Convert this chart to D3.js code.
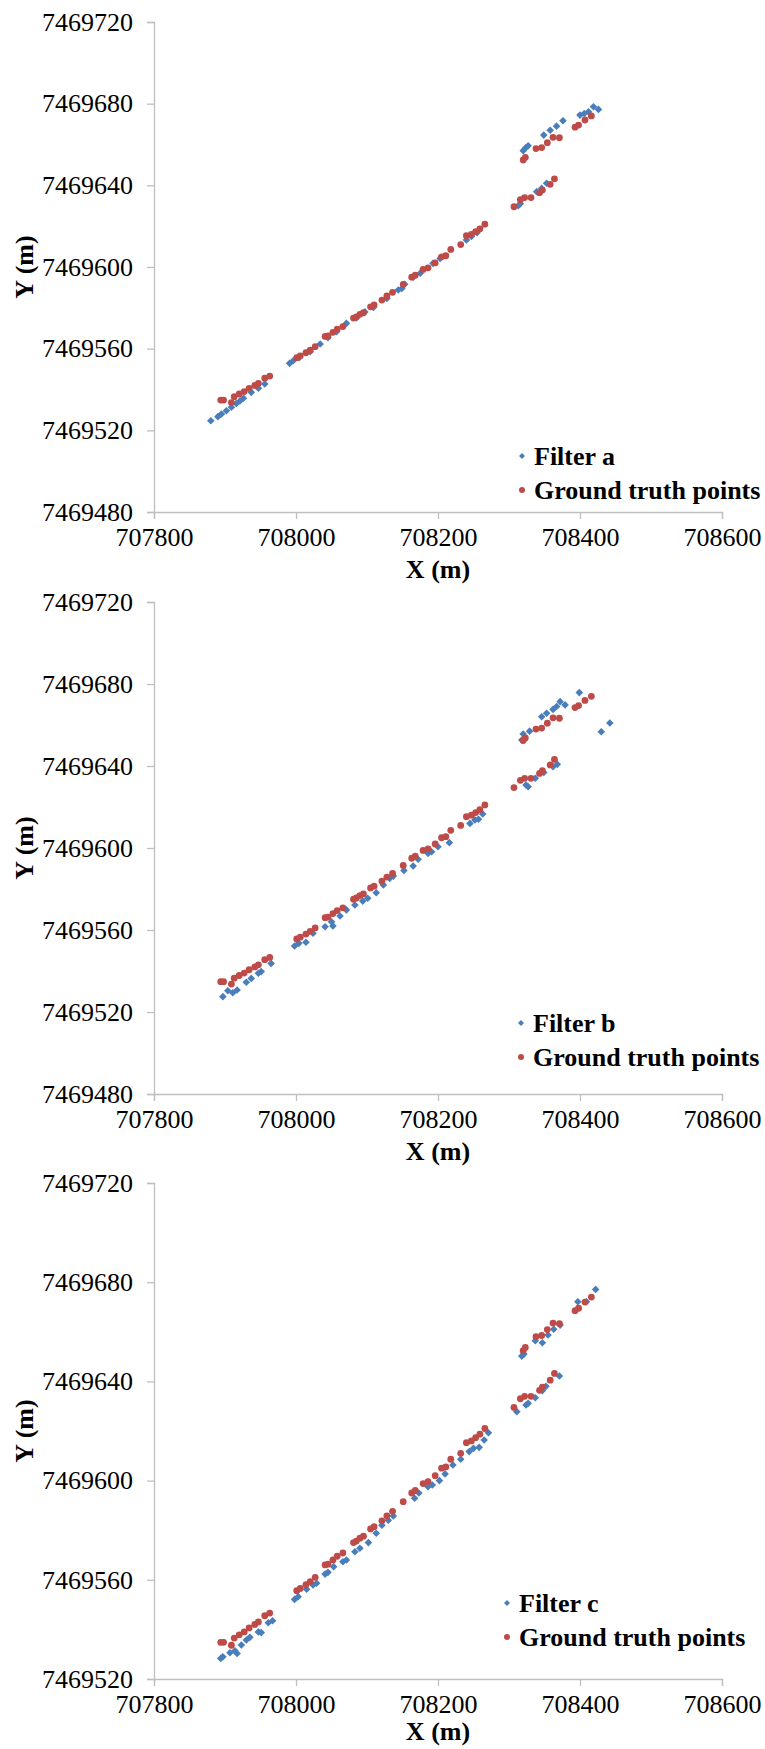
<!DOCTYPE html>
<html>
<head>
<meta charset="utf-8">
<script src="https://cdn.jsdelivr.net/npm/d3@7"></script>
<style>
  body { margin: 0; background: #fff; }
  text { font-family: "Liberation Serif", "Times New Roman", serif; fill: #000; }
</style>
</head>
<body>
<div id="container"></div>
<script>
// ground truth points (shared by all three panels)
var groundTruth = [
  [707894, 7469534.8], [707898, 7469534.8], [707909, 7469533.6], [707913, 7469536.5],
  [707920, 7469537.8], [707927, 7469539], [707934, 7469540.6], [707942, 7469542],
  [707947, 7469543], [707956, 7469545.5], [707963, 7469546.6],
  [708001, 7469555.6], [708006, 7469556.5], [708014, 7469558], [708020, 7469559.3],
  [708027, 7469561], [708041, 7469566], [708045, 7469566.3], [708052, 7469568],
  [708058, 7469569.5], [708066, 7469570.8], [708081, 7469575], [708085, 7469575.6],
  [708090, 7469576.8], [708095, 7469577.6], [708105, 7469580.5], [708110, 7469581.4],
  [708121, 7469583.8], [708128, 7469585.8], [708136, 7469587.6], [708151, 7469591.5],
  [708163, 7469595], [708168, 7469596], [708179, 7469598.8], [708186, 7469599.6],
  [708196, 7469602], [708205, 7469605], [708211, 7469605.5], [708218, 7469608.6],
  [708232, 7469611], [708240, 7469615.3], [708247, 7469616], [708253, 7469617.3],
  [708259, 7469618.7], [708266, 7469621],
  [708307, 7469629.5], [708316, 7469633], [708322, 7469634], [708331, 7469634],
  [708343, 7469636.4], [708347, 7469637.7], [708358, 7469640.5], [708364, 7469643.2],
  [708320, 7469652.4], [708323, 7469653.7], [708338, 7469658], [708346, 7469658.5],
  [708354, 7469660.9], [708362, 7469663.5], [708371, 7469663.3], [708393, 7469668.5],
  [708398, 7469669.5], [708407, 7469672], [708416, 7469674]
];

var filterA = [
  [707880, 7469524.7], [707890, 7469526.7], [707895, 7469528], [707902, 7469529.6],
  [707909, 7469531.3], [707916, 7469533.2], [707921, 7469534.4], [707926, 7469535.7],
  [707937, 7469538.6], [707947, 7469540.6], [707956, 7469542.7],
  [707991, 7469552.8], [707996, 7469554.1], [708005, 7469555.7], [708020, 7469558.5],
  [708034, 7469562.3], [708045, 7469565.4], [708057, 7469568.3], [708071, 7469572.4],
  [708085, 7469575], [708097, 7469578], [708109, 7469580.2], [708128, 7469584.6],
  [708144, 7469588.7], [708149, 7469589.5], [708153, 7469591.5], [708165, 7469595],
  [708175, 7469597], [708193, 7469601.8], [708203, 7469604.2],
  [708240, 7469613.2], [708247, 7469615], [708255, 7469616.8],
  [708313, 7469630], [708316, 7469631], [708339, 7469636.9], [708346, 7469638.5],
  [708353, 7469641],
  [708320, 7469657], [708324, 7469658.5], [708327, 7469659.4], [708349, 7469664.6],
  [708358, 7469667], [708367, 7469669], [708376, 7469671.6], [708400, 7469674.4],
  [708406, 7469675.2], [708412, 7469676], [708419, 7469678.5], [708426, 7469677.2]
];

var filterB = [
  [707897, 7469527.5], [707904, 7469530.4], [707911, 7469529.4], [707917, 7469530.7],
  [707930, 7469534.5], [707937, 7469536.4], [707947, 7469538.9], [707951, 7469539.7],
  [707965, 7469543.7],
  [707998, 7469552.2], [708004, 7469553.5], [708014, 7469554], [708024, 7469558.4],
  [708041, 7469561.6], [708052, 7469562], [708050, 7469564], [708062, 7469566.8],
  [708071, 7469569.8], [708083, 7469572.2], [708094, 7469574.1], [708101, 7469575.5],
  [708113, 7469578.2], [708123, 7469582], [708132, 7469585.2], [708137, 7469586.3],
  [708152, 7469589], [708165, 7469591.2], [708172, 7469594.5], [708186, 7469597.4],
  [708191, 7469598.2], [708200, 7469600.6], [708216, 7469602.6],
  [708245, 7469612], [708252, 7469613.7], [708257, 7469614], [708263, 7469616.6],
  [708324, 7469630.7], [708327, 7469629.9], [708337, 7469634], [708349, 7469636.8],
  [708362, 7469639.7], [708368, 7469640.8],
  [708318, 7469652.7], [708320, 7469655.6], [708329, 7469657], [708346, 7469664],
  [708353, 7469665.7], [708362, 7469667.6], [708367, 7469669], [708372, 7469671.4],
  [708379, 7469669.8], [708399, 7469675.8], [708430, 7469656.7], [708442, 7469661]
];

var filterC = [
  [707894, 7469528.3], [707897, 7469529], [707907, 7469530.6], [707914, 7469531.4],
  [707917, 7469530.3], [707923, 7469533.7], [707930, 7469535.7], [707935, 7469536.8],
  [707947, 7469539], [707951, 7469538.7], [707961, 7469542.7], [707967, 7469543.5],
  [707998, 7469552.1], [708003, 7469553.2], [708015, 7469556.2], [708024, 7469557.9],
  [708029, 7469558.6], [708041, 7469562.3], [708045, 7469563], [708053, 7469565.3],
  [708066, 7469567.3], [708071, 7469568], [708083, 7469571.3], [708090, 7469572.7],
  [708102, 7469575], [708113, 7469578.8], [708121, 7469582], [708130, 7469584],
  [708137, 7469585.7], [708167, 7469592.9], [708173, 7469595], [708186, 7469597.5],
  [708192, 7469598.2], [708202, 7469600], [708210, 7469602.7], [708221, 7469606.3],
  [708232, 7469608.6], [708244, 7469611.7], [708250, 7469613], [708258, 7469613.4],
  [708265, 7469616.4], [708271, 7469619.3],
  [708311, 7469627.8], [708324, 7469630.5], [708327, 7469631.2], [708337, 7469633.4],
  [708347, 7469636.3], [708352, 7469638], [708371, 7469642.2],
  [708318, 7469650.2], [708321, 7469651], [708337, 7469656.4], [708347, 7469655.6],
  [708355, 7469658.7], [708363, 7469661], [708372, 7469662.7], [708397, 7469672.1],
  [708409, 7469672.1], [708422, 7469677.1]
];

var xTicks = [707800, 708000, 708200, 708400, 708600];
var yTicksAB = [7469480, 7469520, 7469560, 7469600, 7469640, 7469680, 7469720];
var yTicksC = [7469520, 7469560, 7469600, 7469640, 7469680, 7469720];
var filterNames = ["Filter a", "Filter b", "Filter c"];

var blue = "#4a7ebb", red = "#be4b48", axisGrey = "#bfbfbf";
var serif = "'Liberation Serif', 'Times New Roman', serif";

var panels = [
  {filter: filterA, name: filterNames[0], yTicks: yTicksAB, top: 22, bottom: 512, titleDy: 66, legX: 522, legY: 456},
  {filter: filterB, name: filterNames[1], yTicks: yTicksAB, top: 602, bottom: 1094, titleDy: 66, legX: 521, legY: 1023},
  {filter: filterC, name: filterNames[2], yTicks: yTicksC, top: 1183, bottom: 1679, titleDy: 61, legX: 507, legY: 1603}
];

var svg = d3.select("#container")
  .append("svg")
    .attr("width", 765)
    .attr("height", 1749);

var x = d3.scaleLinear().domain([707800, 708600]).range([154, 722]);
var diamond = "M0,-3.8L3.8,0L0,3.8L-3.8,0Z";

panels.forEach(function(p) {
  var g = svg.append("g");
  var y = d3.scaleLinear()
    .domain(d3.extent(p.yTicks))
    .range([p.bottom, p.top]);

  // x axis
  var gx = g.append("g")
    .attr("transform", "translate(0," + p.bottom + ")")
    .call(d3.axisBottom(x).tickValues(xTicks).tickFormat(d3.format("d")).tickSizeOuter(0).tickSize(7).tickPadding(9));
  // y axis
  var gy = g.append("g")
    .attr("transform", "translate(" + x.range()[0] + ",0)")
    .call(d3.axisLeft(y).tickValues(p.yTicks).tickFormat(d3.format("d")).tickSizeOuter(0).tickSize(7).tickPadding(14));

  [gx, gy].forEach(function(a) {
    a.attr("font-family", serif).attr("font-size", 26);
    a.select(".domain").attr("stroke", axisGrey).attr("stroke-width", 1.3);
    a.selectAll(".tick line").attr("stroke", axisGrey).attr("stroke-width", 1.3);
    a.selectAll(".tick text")
      .attr("fill", "#000")
      .style("font-family", serif)
      .style("font-size", "26px");
  });

  // axis titles
  g.append("text")
    .attr("x", (x.range()[0] + x.range()[1]) / 2)
    .attr("y", p.bottom + p.titleDy)
    .attr("text-anchor", "middle")
    .style("font-size", "26px")
    .style("font-weight", "bold")
    .text("X (m)");
  g.append("text")
    .attr("transform", "translate(33," + (p.top + p.bottom) / 2 + ") rotate(-90)")
    .attr("text-anchor", "middle")
    .style("font-size", "26px")
    .style("font-weight", "bold")
    .text("Y (m)");

  // filter points
  g.append("g").selectAll("path")
    .data(p.filter)
    .join("path")
      .attr("d", diamond)
      .attr("fill", blue)
      .attr("transform", function(d) { return "translate(" + x(d[0]) + "," + y(d[1]) + ")"; });

  // ground truth points
  g.append("g").selectAll("circle")
    .data(groundTruth)
    .join("circle")
      .attr("cx", function(d) { return x(d[0]); })
      .attr("cy", function(d) { return y(d[1]); })
      .attr("r", 3.4)
      .attr("fill", red);

  // legend
  var leg = g.append("g").attr("transform", "translate(" + p.legX + "," + p.legY + ")");
  leg.append("path").attr("d", "M0,-3L3,0L0,3L-3,0Z").attr("fill", blue);
  leg.append("text").attr("x", 12).attr("y", 9)
    .style("font-size", "26px").style("font-weight", "bold").text(p.name);
  leg.append("circle").attr("cx", 0).attr("cy", 34).attr("r", 3).attr("fill", red);
  leg.append("text").attr("x", 12).attr("y", 43)
    .style("font-size", "26px").style("font-weight", "bold").text("Ground truth points");
});
</script>
</body>
</html>
